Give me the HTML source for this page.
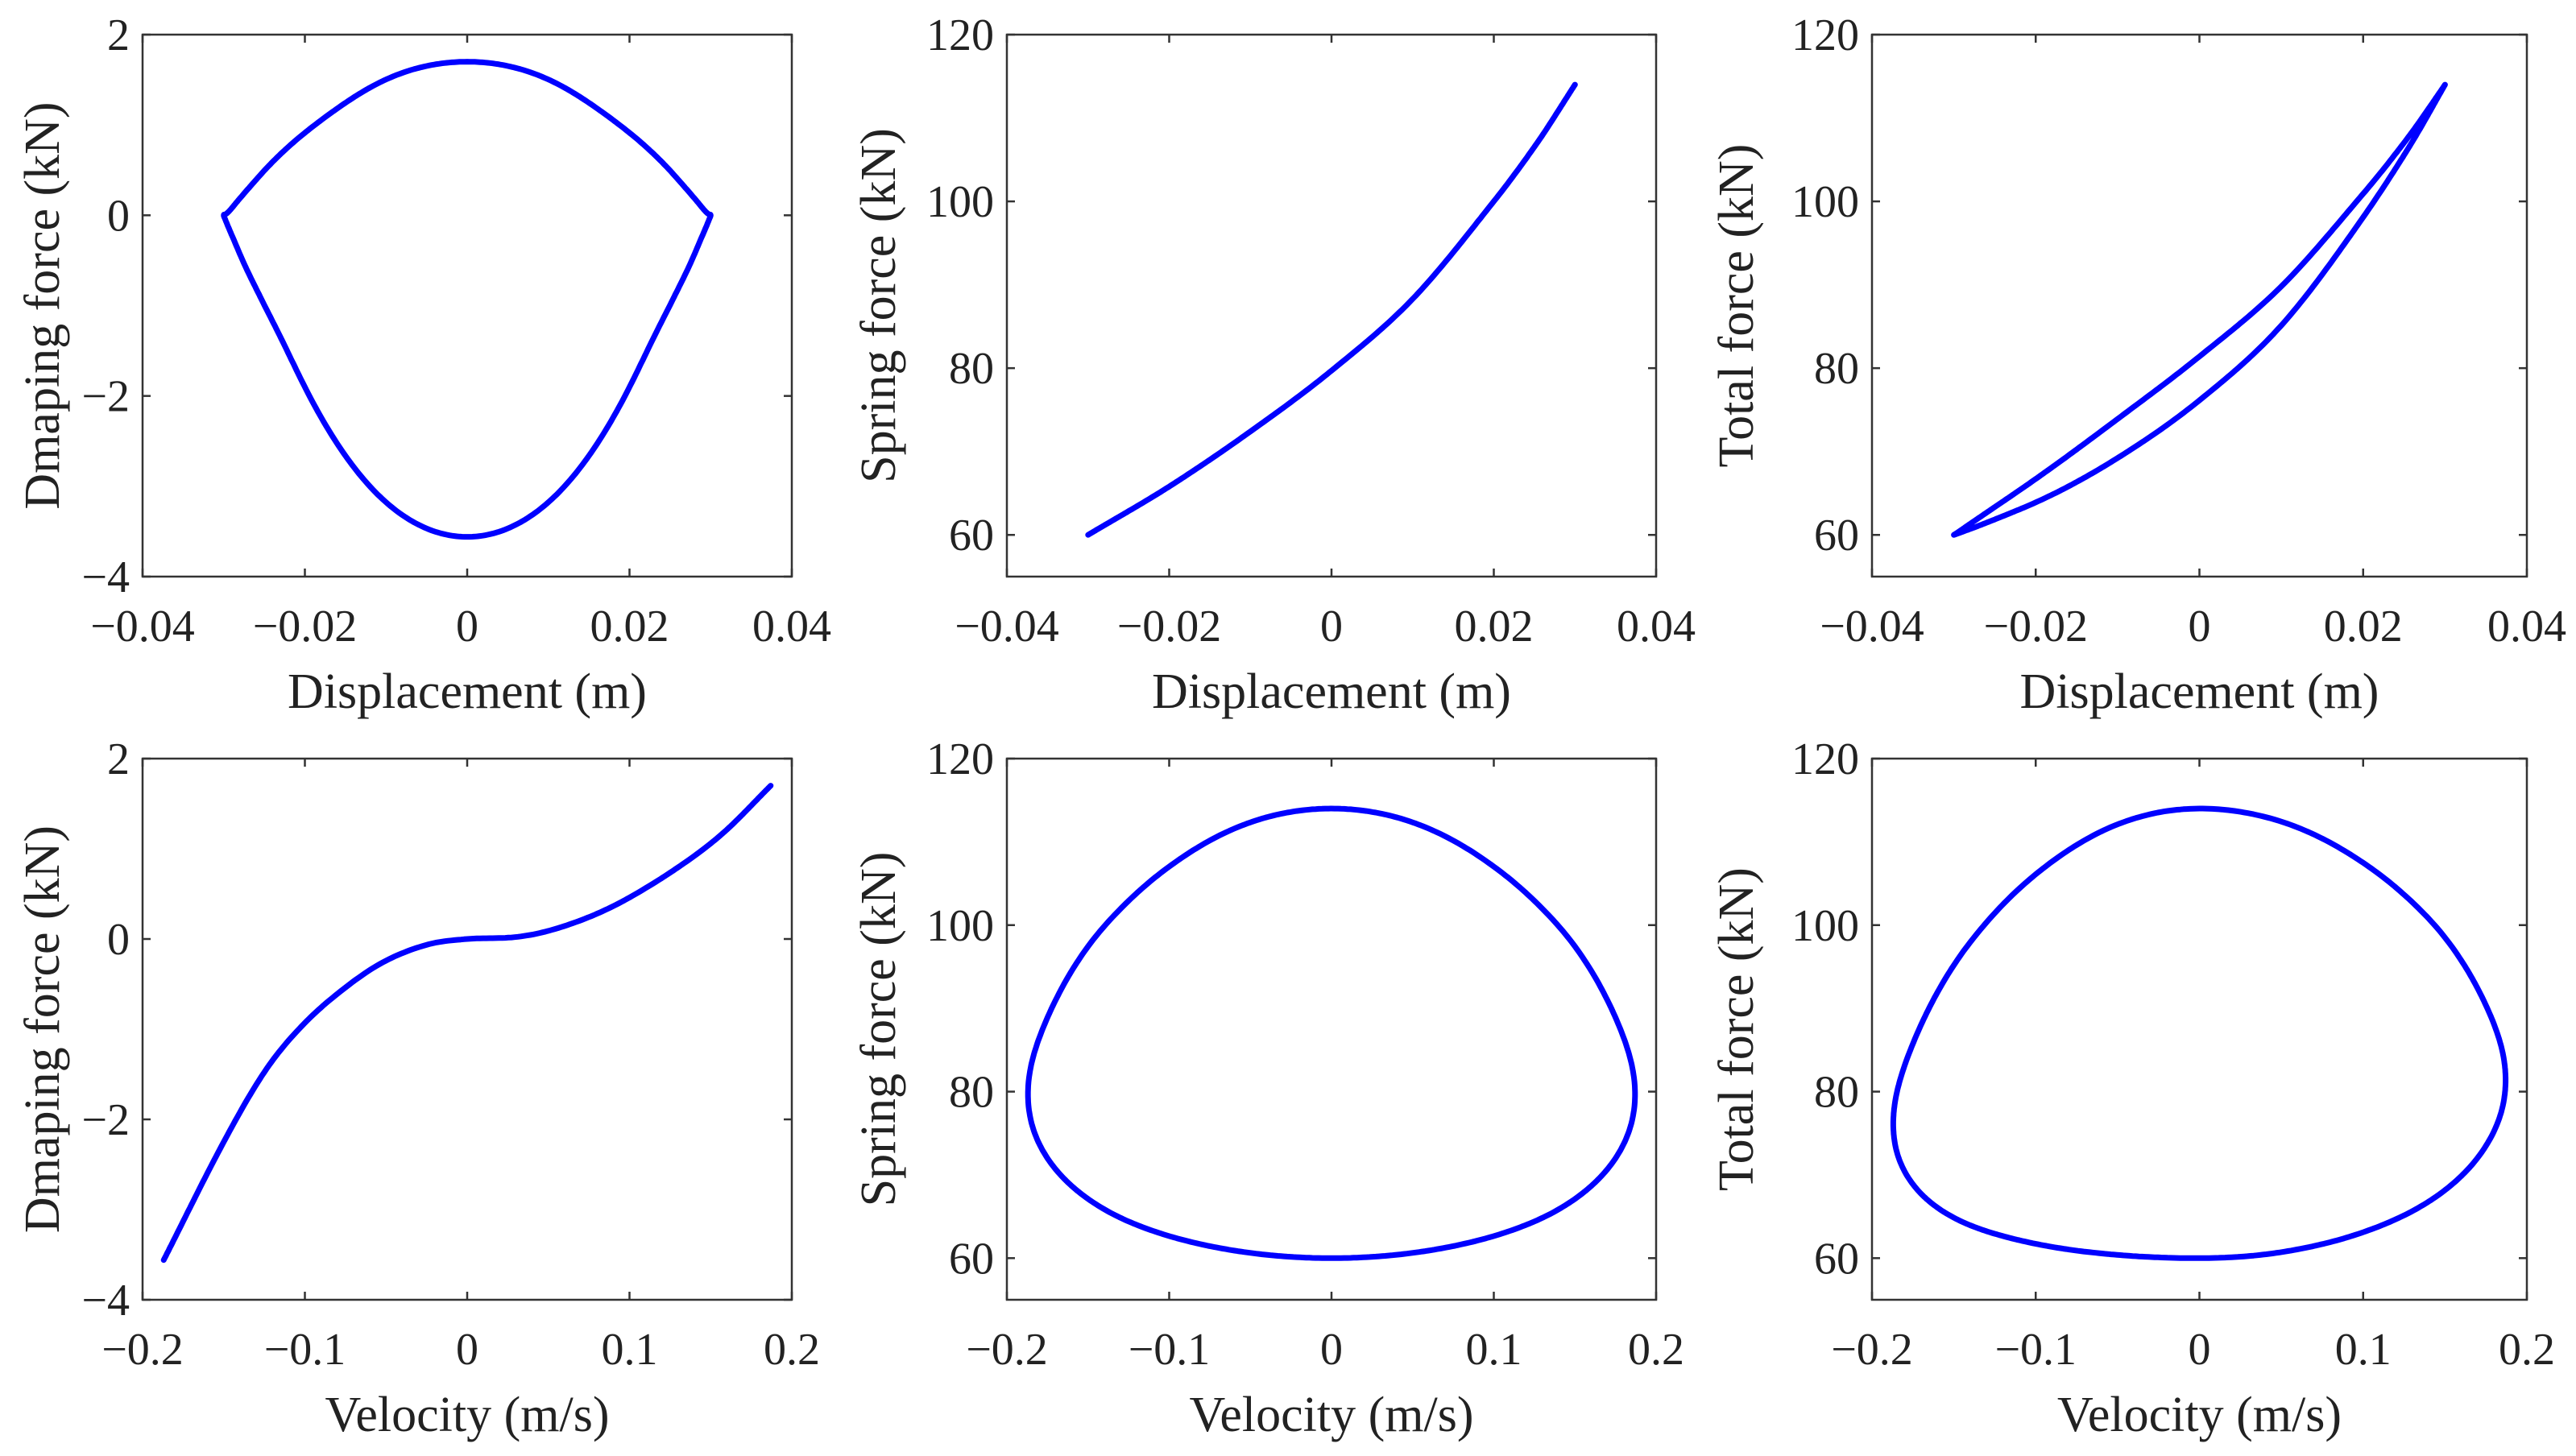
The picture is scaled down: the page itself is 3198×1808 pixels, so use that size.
<!DOCTYPE html>
<html><head><meta charset="utf-8"><style>
html,body{margin:0;padding:0;background:#fff;}
svg{display:block;}
text{font-family:"Liberation Serif","Times New Roman","DejaVu Serif",serif;fill:#222;}
</style></head><body>
<svg id="fig" width="3198" height="1808" viewBox="0 0 3198 1808" xmlns="http://www.w3.org/2000/svg"></svg>
<script>
// Damping force vs velocity
const velPts = [-0.187, -0.15, -0.124, -0.1, -0.073, -0.05, -0.024, 0, 0.029, 0.05, 0.076, 0.1, 0.132, 0.158, 0.187];
const dampPts = [-3.56, -2.25, -1.45, -0.93, -0.51, -0.24, -0.06, 0, 0.02, 0.09, 0.25, 0.46, 0.82, 1.18, 1.7];
// Spring force vs displacement
const dispPts = [-0.03, -0.02, -0.01, 0, 0.01, 0.02, 0.0254, 0.03];
const springPts = [60, 65.8, 72.4, 79.7, 88.3, 100, 107.1, 114];
const dispTicks = [-0.04, -0.02, 0, 0.02, 0.04];
const dispTickLabels = ["\u22120.04", "\u22120.02", "0", "0.02", "0.04"];
const velTicks = [-0.2, -0.1, 0, 0.1, 0.2];
const velTickLabels = ["\u22120.2", "\u22120.1", "0", "0.1", "0.2"];
const dampTicks = [-4, -2, 0, 2];
const dampTickLabels = ["\u22124", "\u22122", "0", "2"];
const forceTicks = [60, 80, 100, 120];
const forceTickLabels = ["60", "80", "100", "120"];

const NS = "http://www.w3.org/2000/svg";
const FONT = "'Liberation Serif', 'Times New Roman', 'DejaVu Serif', serif";
const svg = document.getElementById("fig");
function mk(tag, attrs, parent) {
  const e = document.createElementNS(NS, tag);
  for (const k in attrs) e.setAttribute(k, attrs[k]);
  (parent || svg).appendChild(e);
  return e;
}
function interp(xs, ys, x) {
  const n = xs.length;
  if (x <= xs[0]) return ys[0];
  if (x >= xs[n - 1]) return ys[n - 1];
  let i = 0;
  while (i < n - 2 && x > xs[i + 1]) i++;
  const h = xs[i + 1] - xs[i];
  const t = (x - xs[i]) / h;
  const m = k => {
    if (k === 0) return (ys[1] - ys[0]) / (xs[1] - xs[0]);
    if (k === n - 1) return (ys[n - 1] - ys[n - 2]) / (xs[n - 1] - xs[n - 2]);
    return (ys[k + 1] - ys[k - 1]) / (xs[k + 1] - xs[k - 1]);
  };
  const m0 = m(i) * h, m1 = m(i + 1) * h;
  const t2 = t * t, t3 = t2 * t;
  return (2 * t3 - 3 * t2 + 1) * ys[i] + (t3 - 2 * t2 + t) * m0 + (-2 * t3 + 3 * t2) * ys[i + 1] + (t3 - t2) * m1;
}
const A = dispPts[dispPts.length - 1];
const V = velPts[velPts.length - 1];
const N = 600;
const cyc = [];
for (let k = 0; k <= N; k++) {
  const th = 2 * Math.PI * k / N;
  const x = A * Math.sin(th), v = V * Math.cos(th);
  const fd = interp(velPts, dampPts, v);
  const fs = interp(dispPts, springPts, x);
  cyc.push({ x: x, v: v, fd: fd, fs: fs, ft: fd + fs });
}
const cols = [[177, 983], [1250, 2056], [2324, 3137]];
const rows = [[43, 716], [942, 1614]];
const yLabelX = [53, 1091, 2156];
const panels = [
  { c: 0, r: 0, xd: [-0.04, 0.04], yd: [-4, 2], xt: dispTicks, xl: dispTickLabels, yt: dampTicks, yl: dampTickLabels, xk: "x", yk: "fd", xlab: "Displacement (m)", ylab: "Dmaping force (kN)", name: "damping-vs-displacement" },
  { c: 1, r: 0, xd: [-0.04, 0.04], yd: [55, 120], xt: dispTicks, xl: dispTickLabels, yt: forceTicks, yl: forceTickLabels, xk: "x", yk: "fs", xlab: "Displacement (m)", ylab: "Spring force (kN)", name: "spring-vs-displacement" },
  { c: 2, r: 0, xd: [-0.04, 0.04], yd: [55, 120], xt: dispTicks, xl: dispTickLabels, yt: forceTicks, yl: forceTickLabels, xk: "x", yk: "ft", xlab: "Displacement (m)", ylab: "Total force (kN)", name: "total-vs-displacement" },
  { c: 0, r: 1, xd: [-0.2, 0.2], yd: [-4, 2], xt: velTicks, xl: velTickLabels, yt: dampTicks, yl: dampTickLabels, xk: "v", yk: "fd", xlab: "Velocity (m/s)", ylab: "Dmaping force (kN)", name: "damping-vs-velocity" },
  { c: 1, r: 1, xd: [-0.2, 0.2], yd: [55, 120], xt: velTicks, xl: velTickLabels, yt: forceTicks, yl: forceTickLabels, xk: "v", yk: "fs", xlab: "Velocity (m/s)", ylab: "Spring force (kN)", name: "spring-vs-velocity" },
  { c: 2, r: 1, xd: [-0.2, 0.2], yd: [55, 120], xt: velTicks, xl: velTickLabels, yt: forceTicks, yl: forceTickLabels, xk: "v", yk: "ft", xlab: "Velocity (m/s)", ylab: "Total force (kN)", name: "total-vs-velocity" }
];
panels.forEach(p => {
  const [x0, x1] = cols[p.c], [y0, y1] = rows[p.r];
  const g = mk("g", {});
  
  
  const sx = v => x0 + (v - p.xd[0]) / (p.xd[1] - p.xd[0]) * (x1 - x0);
  const sy = v => y1 - (v - p.yd[0]) / (p.yd[1] - p.yd[0]) * (y1 - y0);
  let d = "";
  cyc.forEach((q, i) => { d += (i ? "L" : "M") + sx(q[p.xk]).toFixed(1) + "," + sy(q[p.yk]).toFixed(1); });
  const line = mk("path", { d: d, fill: "none", stroke: "#0000ff", "stroke-width": 7, "stroke-linejoin": "round", "stroke-linecap": "round" }, g);
  
  
  const box = mk("rect", { x: x0, y: y0, width: x1 - x0, height: y1 - y0, fill: "none", stroke: "#333", "stroke-width": 2.5 }, g);
  
  
  p.xt.forEach((t, i) => {
    const X = sx(t);
    mk("line", { x1: X, x2: X, y1: y1, y2: y1 - 10, stroke: "#333", "stroke-width": 2.5 }, g);
    mk("line", { x1: X, x2: X, y1: y0, y2: y0 + 10, stroke: "#333", "stroke-width": 2.5 }, g);
    const tx = mk("text", { x: X, y: y1 + 80, "font-size": 56, "text-anchor": "middle", "font-family": FONT }, g);
    tx.textContent = p.xl[i];
    
    
  });
  p.yt.forEach((t, i) => {
    const Y = sy(t);
    mk("line", { x1: x0, x2: x0 + 10, y1: Y, y2: Y, stroke: "#333", "stroke-width": 2.5 }, g);
    mk("line", { x1: x1, x2: x1 - 10, y1: Y, y2: Y, stroke: "#333", "stroke-width": 2.5 }, g);
    const ty = mk("text", { x: x0 - 16, y: Y + 19, "font-size": 56, "text-anchor": "end", "font-family": FONT }, g);
    ty.textContent = p.yl[i];
    
    
  });
  const xt = mk("text", { x: (x0 + x1) / 2, y: y1 + 163, "font-size": 62, "text-anchor": "middle", "font-family": FONT }, g);
  xt.textContent = p.xlab;
  
  
  const lx = yLabelX[p.c] + 20, ly = (y0 + y1) / 2;
  const yt = mk("text", { x: lx, y: ly, "font-size": 62, "text-anchor": "middle", "font-family": FONT, transform: "rotate(-90 " + lx + " " + ly + ")" }, g);
  yt.textContent = p.ylab;
  
  
});
</script>
</body></html>
